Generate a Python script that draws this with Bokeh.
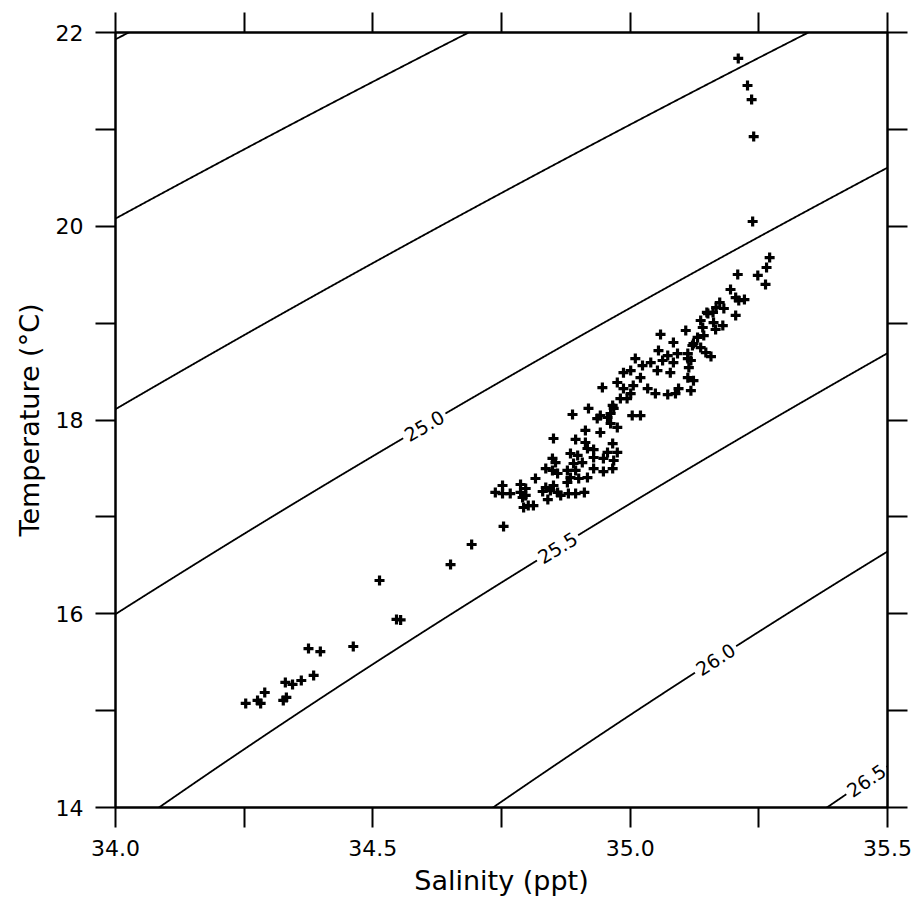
import numpy as np
from bokeh.plotting import figure
from bokeh.models import LinearAxis, FixedTicker, Range1d, CustomJSTickFormatter
from bokeh.core.properties import value
from bokeh.embed import file_html
from bokeh.resources import INLINE

# ---------------- data ----------------
salinity = [
    35.210, 35.228, 35.236, 35.240, 35.238,
    35.271, 35.265, 35.248, 35.209, 35.263, 35.195, 35.205, 35.211, 35.222, 35.174,
    35.167, 35.182, 35.161, 35.205, 35.149, 35.137, 35.162, 35.180, 35.141, 35.166,
    35.108, 35.131, 35.143, 35.123, 35.137, 35.147, 35.157, 35.112, 35.118,
    35.151, 35.059, 35.084, 35.121, 35.055, 35.073, 35.092, 35.010, 35.063, 35.040,
    35.084, 35.112, 35.114, 35.053, 35.078, 35.024, 35.001, 34.987, 35.020, 35.112,
    35.123, 34.975, 34.946, 35.006, 35.034, 34.987, 35.094, 35.118, 35.001, 35.049,
    35.073, 35.088, 34.981, 34.994, 34.966, 34.919, 34.888, 34.942, 34.962, 35.004,
    35.020,
    34.936, 34.956, 34.968, 34.962, 34.975, 34.942, 34.913, 34.851, 34.894, 34.913,
    34.966, 34.917, 34.929, 34.956, 34.975, 34.884, 34.898, 34.849, 34.855, 34.929,
    34.948, 34.968, 34.890, 34.907, 34.836, 34.849, 34.878, 34.894, 34.929, 34.948,
    34.966, 34.816, 34.859, 34.884, 34.900, 34.917, 34.878, 34.787, 34.752, 34.797,
    34.836, 34.851, 34.738, 34.752, 34.767, 34.787, 34.797, 34.830, 34.845, 34.859,
    34.865, 34.880, 34.894, 34.911, 34.791, 34.840, 34.812, 34.793, 34.802, 34.754,
    34.692, 34.651, 34.513, 34.546, 34.554, 34.462, 34.375, 34.398, 34.385, 34.330,
    34.344, 34.361, 34.290, 34.326, 34.332, 34.253, 34.276, 34.282,
]
temperature = [
    21.732, 21.453, 21.308, 20.926, 20.049,
    19.677, 19.574, 19.492, 19.502, 19.399, 19.347, 19.264, 19.233, 19.243, 19.213,
    19.161, 19.151, 19.110, 19.079, 19.110, 19.027, 19.006, 18.975, 18.955, 18.934,
    18.924, 18.852, 18.872, 18.789, 18.748, 18.696, 18.655, 18.686, 18.614,
    19.099, 18.883, 18.800, 18.769, 18.717, 18.665, 18.686, 18.634, 18.614, 18.593,
    18.593, 18.634, 18.541, 18.510, 18.489, 18.562, 18.510, 18.489, 18.437, 18.437,
    18.406, 18.387, 18.335, 18.355, 18.324, 18.324, 18.324, 18.303, 18.273, 18.273,
    18.262, 18.273, 18.221, 18.221, 18.150, 18.119, 18.057, 18.046, 18.067, 18.046,
    18.046,
    18.015, 18.026, 18.119, 17.964, 17.923, 17.871, 17.892, 17.809, 17.799, 17.768,
    17.757, 17.706, 17.695, 17.665, 17.665, 17.654, 17.634, 17.603, 17.561, 17.613,
    17.603, 17.582, 17.551, 17.561, 17.499, 17.479, 17.479, 17.479, 17.499, 17.468,
    17.499, 17.396, 17.448, 17.406, 17.396, 17.406, 17.355, 17.334, 17.324, 17.293,
    17.303, 17.324, 17.252, 17.241, 17.241, 17.252, 17.221, 17.262, 17.272, 17.252,
    17.221, 17.241, 17.241, 17.252, 17.200, 17.179, 17.117, 17.097, 17.117, 16.901,
    16.715, 16.508, 16.343, 15.941, 15.936, 15.662, 15.641, 15.610, 15.363, 15.291,
    15.270, 15.311, 15.187, 15.105, 15.136, 15.074, 15.105, 15.074,
]

sigma_levels = [23.5, 24.0, 24.5, 25.0, 25.5, 26.0, 26.5]
labeled_levels = [25.0, 25.5, 26.0, 26.5]

x_major = [34.0, 34.5, 35.0, 35.5]
x_minor = [34.25, 34.75, 35.25]
y_major = [14, 16, 18, 20, 22]
y_minor = [15, 17, 19, 21]

# ---------------- layout constants ----------------
W, H = 917, 903
BL, BR, BT, BB = 115, 30, 32, 96
label_sal = {25.0: 34.600, 25.5: 34.859, 26.0: 35.166, 26.5: 35.459}
FONT = "DejaVu Sans"

# Knudsen sigma-t
def sigma_t(S, T):
    Cl = S / 1.80655
    s0 = -0.069 + 1.4708 * Cl - 0.001570 * Cl**2 + 0.0000398 * Cl**3
    Sig = -((T - 3.98) ** 2) * (T + 283.0) / (503.570 * (T + 67.26))
    At = T * (4.7867 - 0.098185 * T + 0.0010843 * T**2) * 1e-3
    Bt = T * (18.030 - 0.8164 * T + 0.01667 * T**2) * 1e-6
    return Sig + (s0 + 0.1324) * (1 - At + Bt * (s0 - 0.1324))

def temp_for(S, sig):
    S = np.asarray(S, dtype=float)
    lo = np.full_like(S, 4.0)
    hi = np.full_like(S, 40.0)
    for _ in range(60):
        mid = 0.5 * (lo + hi)
        f = sigma_t(S, mid)
        above = f > sig
        lo = np.where(above, mid, lo)
        hi = np.where(above, hi, mid)
    return 0.5 * (lo + hi)

x0, x1, y0, y1 = 34.0, 35.5, 14.0, 22.0
fw, fh = W - BL - BR, H - BT - BB
pxS = fw / (x1 - x0)
pxT = fh / (y1 - y0)

p = figure(width=W, height=H, x_range=Range1d(x0, x1), y_range=Range1d(y0, y1),
           output_backend="svg", toolbar_location=None,
           min_border_left=BL, min_border_right=BR, min_border_top=BT, min_border_bottom=BB)
p.xgrid.visible = False
p.ygrid.visible = False
p.outline_line_color = "black"
p.outline_line_width = 2
p.background_fill_color = "white"
p.border_fill_color = "white"

# isopycnals
S_grid = np.linspace(33.9, 35.6, 1701)
for lvl in sigma_levels:
    T = temp_for(S_grid, lvl)
    if lvl in labeled_levels:
        Sc = label_sal[lvl]
        Tc = float(temp_for(np.array([Sc]), lvl)[0])
        d = np.hypot((S_grid - Sc) * pxS, (T - Tc) * pxT)
        T = np.where(d < 24, np.nan, T)
        Ta = float(temp_for(np.array([Sc - 0.01]), lvl)[0])
        Tb = float(temp_for(np.array([Sc + 0.01]), lvl)[0])
        ang = np.arctan2((Tb - Ta) * pxT, 0.02 * pxS)
        p.text(x=[Sc], y=[Tc], text=[f"{lvl:.1f}"], angle=ang,
               text_align="center", text_baseline="middle",
               text_font=value(FONT), text_font_size="19px", text_color="black")
    p.line(S_grid, T, line_color="black", line_width=1.8)

p.scatter(salinity, temperature, marker="cross", size=10, line_width=3.2,
          line_color="black")

def style_axis(ax, labels=True):
    ax.axis_line_width = 2
    ax.major_tick_line_width = 2
    ax.minor_tick_line_width = 2
    ax.major_tick_in = 0
    ax.major_tick_out = 20
    ax.minor_tick_in = 0
    ax.minor_tick_out = 20
    ax.major_label_text_font = FONT
    ax.major_label_text_font_size = "22px"
    ax.major_label_text_color = "black"
    ax.major_label_standoff = 12
    ax.axis_label_text_font = FONT
    ax.axis_label_text_font_size = "27px"
    ax.axis_label_text_font_style = "normal"
    ax.axis_label_text_color = "black"
    if not labels:
        ax.major_label_text_font_size = "1px"
        ax.major_label_text_color = None
        ax.major_label_standoff = 0

xt = FixedTicker(ticks=x_major, minor_ticks=x_minor)
yt = FixedTicker(ticks=y_major, minor_ticks=y_minor)

xa = p.xaxis[0]
xa.ticker = xt
xa.formatter = CustomJSTickFormatter(code="return tick.toFixed(1);")
xa.axis_label = "Salinity (ppt)"
style_axis(xa)
xa.axis_label_standoff = 6

ya = p.yaxis[0]
ya.ticker = yt
ya.formatter = CustomJSTickFormatter(code="return tick.toFixed(0);")
ya.axis_label = "Temperature (°C)"
style_axis(ya)
ya.axis_label_standoff = 8

top = LinearAxis(ticker=FixedTicker(ticks=x_major + x_minor, minor_ticks=[]))
style_axis(top, labels=False)
p.add_layout(top, "above")
right = LinearAxis(ticker=FixedTicker(ticks=y_major + y_minor, minor_ticks=[]))
style_axis(right, labels=False)
p.add_layout(right, "right")

open("out.html", "w").write(file_html(p, INLINE))
